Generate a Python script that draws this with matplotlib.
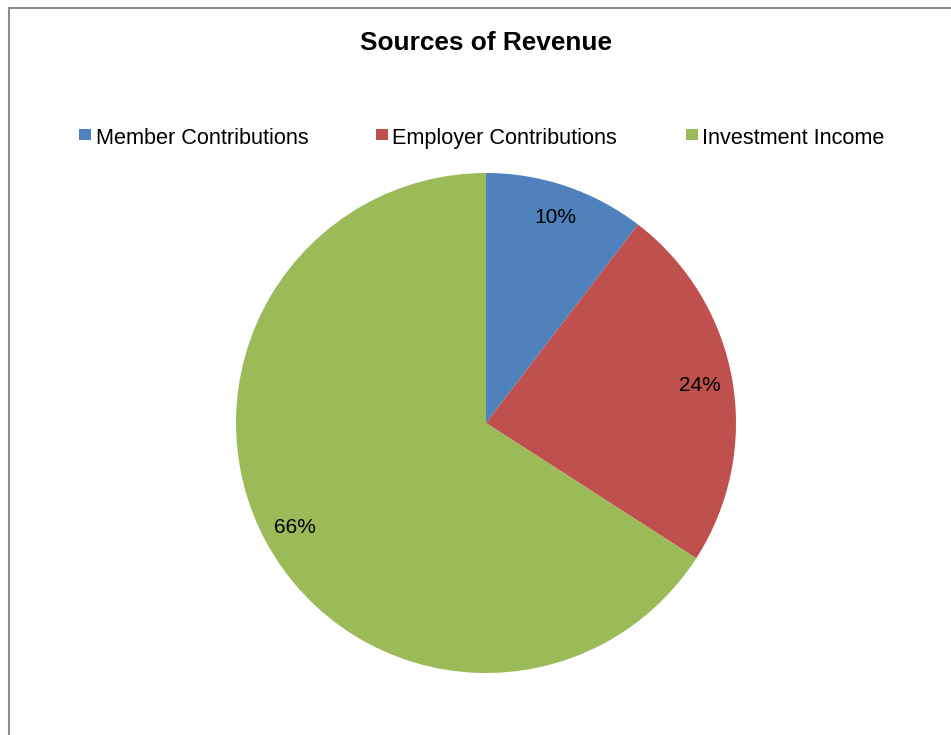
import matplotlib.pyplot as plt
from matplotlib.patches import Rectangle

# data
labels = ['Member Contributions', 'Employer Contributions', 'Investment Income']
values = [10.4, 23.7, 65.9]
colors = ['#4F81BD', '#C0504D', '#9BBB59']

plt.rcParams['font.family'] = ['Liberation Sans', 'DejaVu Sans']

W, H = 951, 735
fig = plt.figure(figsize=(W / 100, H / 100), dpi=100)

# chart border (cut off at right/bottom like the original)
fig.patches.append(Rectangle((9 / W, -0.1), 1.2, 1.1 - 8 / H, transform=fig.transFigure,
                             fill=False, edgecolor='#8c8c8c', lw=1.5))

cx, cy, r = 486, 423, 250
ax = fig.add_axes([(cx - r) / W, (H - cy - r) / H, 2 * r / W, 2 * r / H])
ax.pie(values, colors=colors, startangle=90, counterclock=False,
       autopct=lambda p: '%d%%' % round(p), pctdistance=0.87,
       textprops={'fontsize': 15, 'color': 'black'})
ax.set_xlim(-1, 1)
ax.set_ylim(-1, 1)
ax.axis('off')

fig.text(cx / W, 1 - 50 / H, 'Sources of Revenue', ha='center', va='baseline',
         fontsize=18.9, fontweight='bold')

# legend drawn by hand so all entries share one baseline
leg_x = [79, 376, 686]  # left edge of each marker, px
for x0, lab, c in zip(leg_x, labels, colors):
    fig.patches.append(Rectangle((x0 / W, 1 - 139.5 / H), 11.5 / W, 11 / H,
                                 transform=fig.transFigure, facecolor=c, edgecolor='none'))
    fig.text((x0 + 16.5) / W, 1 - 144 / H, lab, ha='left', va='baseline', fontsize=15.6)

fig.savefig('out.png', dpi=100)
